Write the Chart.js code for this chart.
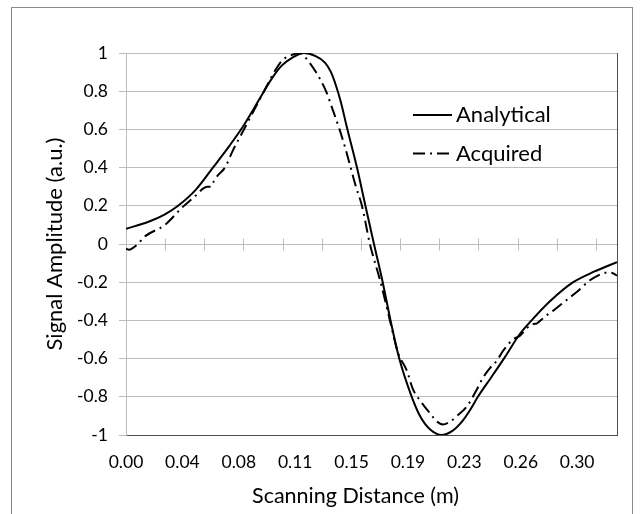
<!DOCTYPE html>
<html>
<head>
<meta charset="utf-8">
<script src="https://cdn.jsdelivr.net/npm/chart.js@4/dist/chart.umd.min.js"></script>
<style>
  html, body { margin: 0; padding: 0; background: #fff; }
  #c { display: block; }
</style>
</head>
<body>
<canvas id="c" width="643" height="514"></canvas>
<script>
// ---- data ----
const seriesNames = ['Analytical', 'Acquired'];
const analyticalX = [0.0000,0.0146,0.0259,0.0346,0.0465,0.0578,0.0684,0.0778,0.0851,0.0918,0.0977,0.1037,0.1104,0.1184,0.1257,0.1323,0.1363,0.1396,0.1430,0.1466,0.1536,0.1592,0.1649,0.1707,0.1759,0.1817,0.1900,0.1955,0.2021,0.2099,0.2168,0.2234,0.2287,0.2340,0.2427,0.2513,0.2620,0.2697,0.2819,0.2974,0.3112,0.3265];
const analyticalY = [0.08,0.115,0.155,0.2,0.285,0.4,0.51,0.615,0.71,0.8,0.875,0.935,0.975,1.0,0.985,0.95,0.9,0.83,0.74,0.62,0.4,0.2,0,-0.2,-0.4,-0.6,-0.8,-0.9,-0.97,-1.0,-0.98,-0.93,-0.87,-0.8,-0.7,-0.6,-0.47,-0.4,-0.3,-0.2,-0.145,-0.095];
const acquiredX = [0.0000,0.0020,0.0047,0.0073,0.0126,0.0259,0.0372,0.0459,0.0512,0.0539,0.0565,0.0585,0.0612,0.0658,0.0711,0.0778,0.0851,0.0918,0.0971,0.1037,0.1104,0.1157,0.1210,0.1263,0.1330,0.1376,0.1420,0.1459,0.1494,0.1529,0.1569,0.1622,0.1693,0.1755,0.1809,0.1866,0.1908,0.1955,0.1995,0.2035,0.2068,0.2108,0.2154,0.2201,0.2267,0.2334,0.2374,0.2420,0.2467,0.2507,0.2573,0.2620,0.2666,0.2706,0.2733,0.2786,0.2839,0.2919,0.2999,0.3085,0.3152,0.3185,0.3225,0.3265];
const acquiredY = [-0.025,-0.03,-0.02,-0.005,0.04,0.10,0.19,0.25,0.29,0.30,0.30,0.33,0.36,0.40,0.49,0.59,0.70,0.80,0.88,0.96,0.99,1.0,0.96,0.90,0.80,0.70,0.60,0.50,0.40,0.30,0.20,0.00,-0.20,-0.40,-0.57,-0.66,-0.76,-0.82,-0.86,-0.90,-0.93,-0.945,-0.93,-0.90,-0.85,-0.76,-0.70,-0.65,-0.61,-0.56,-0.50,-0.48,-0.44,-0.42,-0.415,-0.38,-0.35,-0.30,-0.25,-0.19,-0.16,-0.15,-0.15,-0.165];
const xTickValues = [0, 0.0375, 0.075, 0.1125, 0.15, 0.1875, 0.225, 0.2625, 0.3];
const xTickLabels = ['0.00','0.04','0.08','0.11','0.15','0.19','0.23','0.26','0.30'];
const xMax = 0.3265;
const xAxisMarkStep = 0.0260417;
const xTitle = 'Scanning Distance (m)';
const yTitle = 'Signal Amplitude (a.u.)';

const FONT = 'Lato, "Liberation Sans", sans-serif';
const GRID = '#bdbdbd';

function pts(xs, ys) { return xs.map((x, i) => ({ x: x, y: ys[i] })); }

const decorPlugin = {
  id: 'decor',
  beforeDraw(chart) {
    const ctx = chart.ctx;
    ctx.save();
    ctx.fillStyle = '#fff';
    ctx.fillRect(0, 0, chart.width, chart.height);
    ctx.strokeStyle = '#8a8a8a';
    ctx.lineWidth = 1;
    ctx.strokeRect(11.5, 7.5, 621, 530);
    ctx.restore();
  },
  beforeDatasetsDraw(chart) {
    const ctx = chart.ctx, xs = chart.scales.x, ys = chart.scales.y, a = chart.chartArea;
    const y0 = Math.round(ys.getPixelForValue(0)) + 0.5;
    ctx.save();
    ctx.strokeStyle = GRID;
    ctx.lineWidth = 1;
    ctx.beginPath();
    for (let v = xAxisMarkStep; v <= xMax + 1e-9; v += xAxisMarkStep) {
      const px = Math.round(xs.getPixelForValue(v)) + 0.5;
      ctx.moveTo(px, y0 - 6); ctx.lineTo(px, y0 + 6);
    }
    ctx.stroke();
    // plot area right border
    ctx.strokeStyle = '#4d4d4d';
    ctx.beginPath();
    ctx.moveTo(Math.round(a.right) + 0.5, a.top);
    ctx.lineTo(Math.round(a.right) + 0.5, a.bottom + 1);
    ctx.stroke();
    ctx.restore();
  },
  afterDraw(chart) {
    const ctx = chart.ctx, a = chart.chartArea;
    ctx.save();
    // legend
    chart.data.datasets.forEach((ds, i) => {
      const y = a.top + 62 + i * 38.5;
      const x0 = a.left + 287, x1 = a.left + 326;
      ctx.strokeStyle = ds.borderColor;
      ctx.lineWidth = ds.borderWidth;
      ctx.setLineDash(ds.borderDash || []);
      ctx.beginPath(); ctx.moveTo(x0, y); ctx.lineTo(x1, y); ctx.stroke();
      ctx.setLineDash([]);
      ctx.fillStyle = '#000';
      ctx.font = '22px ' + FONT;
      ctx.textBaseline = 'middle';
      ctx.textAlign = 'left';
      ctx.fillText(ds.label, x1 + 4, y);
    });
    // x axis title
    ctx.font = '21.5px ' + FONT;
    ctx.textAlign = 'center';
    ctx.textBaseline = 'middle';
    ctx.fillStyle = '#000';
    ctx.fillText(xTitle, (a.left + a.right) / 2 - 16, 496);
    ctx.restore();
  }
};

new Chart(document.getElementById('c'), {
  type: 'scatter',
  data: {
    datasets: [
      { label: seriesNames[0], data: pts(analyticalX, analyticalY), showLine: true,
        borderColor: '#000', borderWidth: 2, pointRadius: 0, cubicInterpolationMode: 'monotone' },
      { label: seriesNames[1], data: pts(acquiredX, acquiredY), showLine: true,
        borderColor: '#000', borderWidth: 2, borderDash: [12, 5, 2, 5], pointRadius: 0, cubicInterpolationMode: 'monotone' }
    ]
  },
  options: {
    responsive: false,
    animation: false,
    layout: { padding: { left: 42, top: 53, right: 26, bottom: 0 } },
    plugins: { legend: { display: false }, tooltip: { enabled: false } },
    scales: {
      x: {
        type: 'linear', min: 0, max: xMax,
        afterBuildTicks(s) { s.ticks = xTickValues.map(v => ({ value: v })); },
        afterFit(s) { s.height = 79; },
        ticks: { callback: (v, i) => xTickLabels[i], padding: 17, color: '#000', font: { family: FONT, size: 17.5 }, maxRotation: 0, autoSkip: false },
        grid: { display: false, drawTicks: false },
        border: { display: true, color: '#4d4d4d', width: 1 }
      },
      y: {
        min: -1, max: 1,
        afterFit(s) { s.width = 84; },
        ticks: { stepSize: 0.2, padding: 11, color: '#000', font: { family: FONT, size: 17.5 },
                 callback: v => String(Math.round(v * 10) / 10) },
        grid: { color: GRID, tickLength: 7, drawTicks: true },
        border: { display: true, color: GRID, width: 1 },
        title: { display: true, text: yTitle, color: '#000', font: { family: FONT, size: 22 }, padding: { top: 0, bottom: 0 } }
      }
    }
  },
  plugins: [decorPlugin]
});
</script>
</body>
</html>
